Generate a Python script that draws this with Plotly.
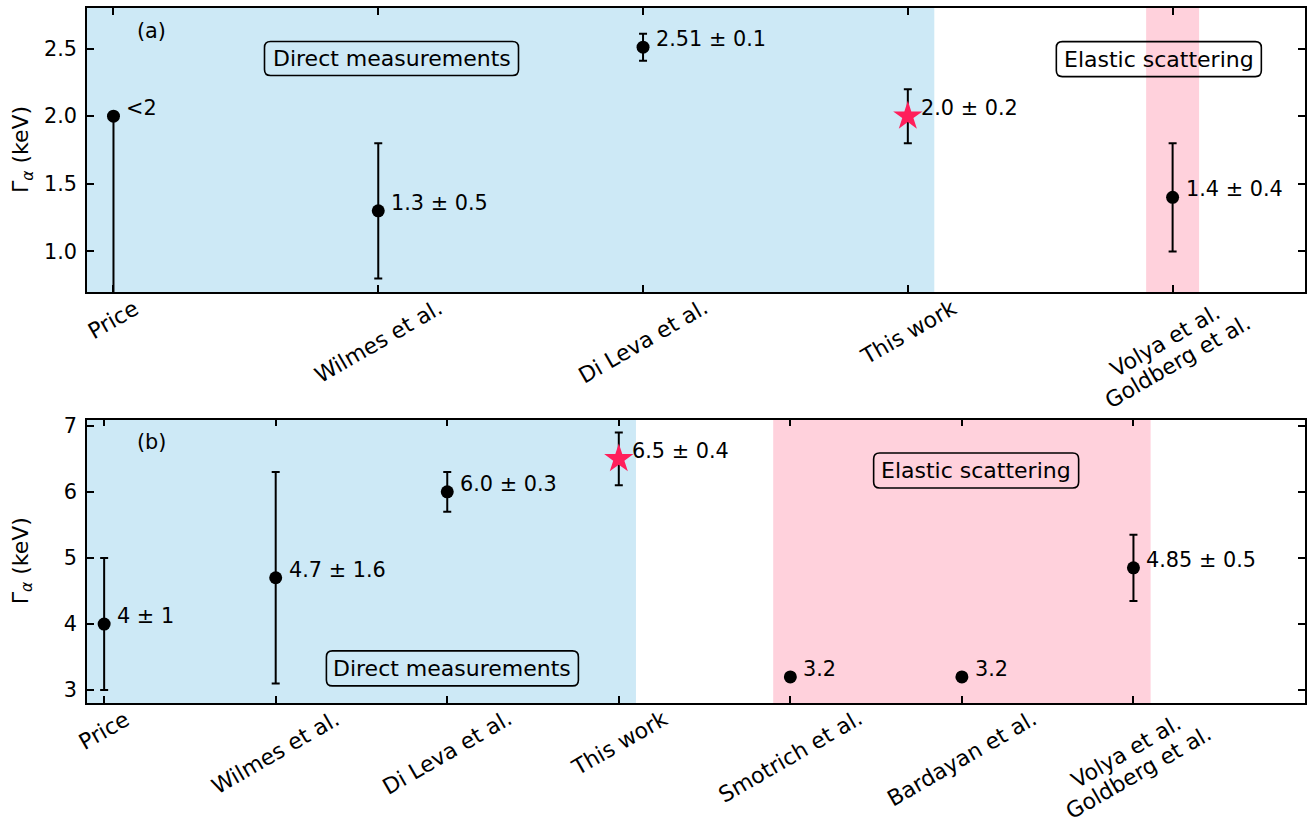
import math
import plotly.graph_objects as go

# ---- panel (a) ----
a_labels = ["Price", "Wilmes et al.", "Di Leva et al.", "This work", "Volya et al.<br>Goldberg et al."]
a_values = [2.0, 1.3, 2.51, 2.0, 1.4]
a_err_up = [0.0, 0.5, 0.1, 0.2, 0.4]
a_err_down = [2.0, 0.5, 0.1, 0.2, 0.4]
a_text = ["&lt;2", "1.3 ± 0.5", "2.51 ± 0.1", "2.0 ± 0.2", "1.4 ± 0.4"]

# ---- panel (b) ----
b_labels = ["Price", "Wilmes et al.", "Di Leva et al.", "This work", "Smotrich et al.",
            "Bardayan et al.", "Volya et al.<br>Goldberg et al."]
b_values = [4.0, 4.7, 6.0, 6.5, 3.2, 3.2, 4.85]
b_err = [1.0, 1.6, 0.3, 0.4, 0.0, 0.0, 0.5]
b_text = ["4 ± 1", "4.7 ± 1.6", "6.0 ± 0.3", "6.5 ± 0.4", "3.2", "3.2", "4.85 ± 0.5"]

THIS_WORK = "This work"

# shaded regions (x ranges in category units)
a_direct = (-0.1, 3.1)
a_elastic = (3.9, 4.1)
b_direct = (-0.1, 3.1)
b_elastic = (3.9, 6.1)

BLUE = "#cde9f6"
PINK = "#ffd1dc"
STAR = "#ff1f5b"
FONT = "DejaVu Sans"
FS = 20.8      # tick and value labels
FS_BIG = 22    # category labels, boxed labels, axis titles

W, H = 1307, 827
XDOM = [87 / W, 1305 / W]
A_DOM = [1 - 292 / H, 1 - 8 / H]
B_DOM = [1 - 703 / H, 1 - 419.5 / H]

# rotated category labels
ANGLE = 30
LINE_GAP = 24.5               # px between stacked lines of a label
BLOCK_OFFSET = (-1.0, 59.0)   # px centre of a stacked label below the axis

fig = go.Figure()


def category_label(x, label, xa, ya):
    font = dict(family=FONT, size=FS_BIG, color="black")
    lines = label.split("<br>")
    if len(lines) == 1:
        fig.add_annotation(x=x, y=0, xref=xa, yref=ya + " domain", text=label,
                           showarrow=False, textangle=-ANGLE, xanchor="center",
                           yanchor="top", font=font)
        return
    s, c = math.sin(math.radians(ANGLE)), math.cos(math.radians(ANGLE))
    n = len(lines)
    for k, line in enumerate(lines):
        d = (k - (n - 1) / 2) * LINE_GAP
        dx = BLOCK_OFFSET[0] + d * s
        dy = BLOCK_OFFSET[1] + d * c
        fig.add_annotation(x=x, y=0, xref=xa, yref=ya + " domain", text=line,
                           showarrow=False, textangle=-ANGLE, xanchor="center",
                           yanchor="middle", xshift=dx, yshift=-dy, font=font)


def add_panel(labels, values, up, down, texts, xa, ya):
    xs = list(range(len(labels)))
    idx = [i for i, l in enumerate(labels) if l != THIS_WORK]
    star = labels.index(THIS_WORK)
    fig.add_trace(go.Scatter(
        x=[xs[i] for i in idx], y=[values[i] for i in idx], mode="markers",
        marker=dict(symbol="circle", size=13, color="black"),
        error_y=dict(type="data", symmetric=False,
                     array=[up[i] for i in idx], arrayminus=[down[i] for i in idx],
                     color="black", thickness=2, width=4),
        xaxis=xa, yaxis=ya, showlegend=False, hoverinfo="skip"))
    fig.add_trace(go.Scatter(
        x=[xs[star]], y=[values[star]], mode="markers",
        marker=dict(symbol="star", size=22, color=STAR, line=dict(width=0)),
        error_y=dict(type="data", symmetric=False, array=[up[star]], arrayminus=[down[star]],
                     color="black", thickness=2, width=4),
        xaxis=xa, yaxis=ya, showlegend=False, hoverinfo="skip"))
    for x, y, t in zip(xs, values, texts):
        fig.add_annotation(x=x, y=y, xref=xa, yref=ya, text=t, showarrow=False,
                           xanchor="left", yanchor="middle", xshift=11, yshift=8,
                           font=dict(family=FONT, size=FS, color="black"))
    for x, l in zip(xs, labels):
        category_label(x, l, xa, ya)


def span(rng, color, xa, ya):
    fig.add_shape(type="rect", xref=xa, yref=ya + " domain", x0=rng[0], x1=rng[1],
                  y0=0, y1=1, fillcolor=color, line=dict(width=0), layer="below")


def boxed_label(text, fx, fy, wpx, hpx, ydom):
    # text box placed in axes fractions, with a rounded outline
    cx = XDOM[0] + fx * (XDOM[1] - XDOM[0])
    cy = ydom[0] + fy * (ydom[1] - ydom[0])
    hw, hh = wpx / 2 / W, hpx / 2 / H
    rx, ry = 6 / W, 6 / H
    x0, x1, y0, y1 = cx - hw, cx + hw, cy - hh, cy + hh
    path = (f"M {x0 + rx},{y0} L {x1 - rx},{y0} Q {x1},{y0} {x1},{y0 + ry} "
            f"L {x1},{y1 - ry} Q {x1},{y1} {x1 - rx},{y1} "
            f"L {x0 + rx},{y1} Q {x0},{y1} {x0},{y1 - ry} "
            f"L {x0},{y0 + ry} Q {x0},{y0} {x0 + rx},{y0} Z")
    fig.add_shape(type="path", path=path, xref="paper", yref="paper",
                  line=dict(color="black", width=1.6), fillcolor="rgba(0,0,0,0)",
                  layer="above")
    fig.add_annotation(x=cx, y=cy, xref="paper", yref="paper", text=text, showarrow=False,
                       xanchor="center", yanchor="middle",
                       font=dict(family=FONT, size=FS_BIG, color="black"))


span(a_direct, BLUE, "x", "y")
span(a_elastic, PINK, "x", "y")
span(b_direct, BLUE, "x2", "y2")
span(b_elastic, PINK, "x2", "y2")

add_panel(a_labels, a_values, a_err_up, a_err_down, a_text, "x", "y")
add_panel(b_labels, b_values, b_err, b_err, b_text, "x2", "y2")

boxed_label("Direct measurements", 0.25, 0.822, 254, 34, A_DOM)
boxed_label("Elastic scattering", 0.88, 0.82, 205, 35, A_DOM)
boxed_label("Elastic scattering", 0.73, 0.82, 205, 35, B_DOM)
boxed_label("Direct measurements", 0.30, 0.122, 252, 35, B_DOM)

for t, ydom in (("(a)", A_DOM), ("(b)", B_DOM)):
    fig.add_annotation(x=XDOM[0] + 0.053 * (XDOM[1] - XDOM[0]),
                       y=ydom[0] + 0.92 * (ydom[1] - ydom[0]),
                       xref="paper", yref="paper", text=t, showarrow=False,
                       xanchor="center", yanchor="middle",
                       font=dict(family=FONT, size=FS, color="black"))
    fig.add_annotation(x=22 / W, y=(ydom[0] + ydom[1]) / 2, xref="paper", yref="paper",
                       text="Γ<sub><i>α</i></sub> (keV)", textangle=-90, showarrow=False,
                       xanchor="center", yanchor="middle",
                       font=dict(family=FONT, size=FS_BIG, color="black"))

axis_common = dict(showline=True, linecolor="black", linewidth=1.6, mirror="ticks",
                   ticks="inside", ticklen=7, tickwidth=1.5, tickcolor="black",
                   showgrid=False, zeroline=False, automargin=False,
                   tickfont=dict(family=FONT, size=FS, color="black"))

fig.update_layout(
    width=W, height=H, margin=dict(l=0, r=0, t=0, b=0, autoexpand=False),
    paper_bgcolor="white", plot_bgcolor="white",
    xaxis=dict(domain=XDOM, anchor="y", range=[-0.1, 4.5],
               tickvals=list(range(len(a_labels))), showticklabels=False, **axis_common),
    yaxis=dict(domain=A_DOM, anchor="x", range=[0.7, 2.8],
               tickvals=[1.0, 1.5, 2.0, 2.5], tickformat=".1f", ticklabelstandoff=4,
               **axis_common),
    xaxis2=dict(domain=XDOM, anchor="y2", range=[-0.1, 7.0],
                tickvals=list(range(len(b_labels))), showticklabels=False, **axis_common),
    yaxis2=dict(domain=B_DOM, anchor="x2", range=[2.805, 7.095],
                tickvals=[3, 4, 5, 6, 7], ticklabelstandoff=4, **axis_common),
)

fig.write_html("out.html")
